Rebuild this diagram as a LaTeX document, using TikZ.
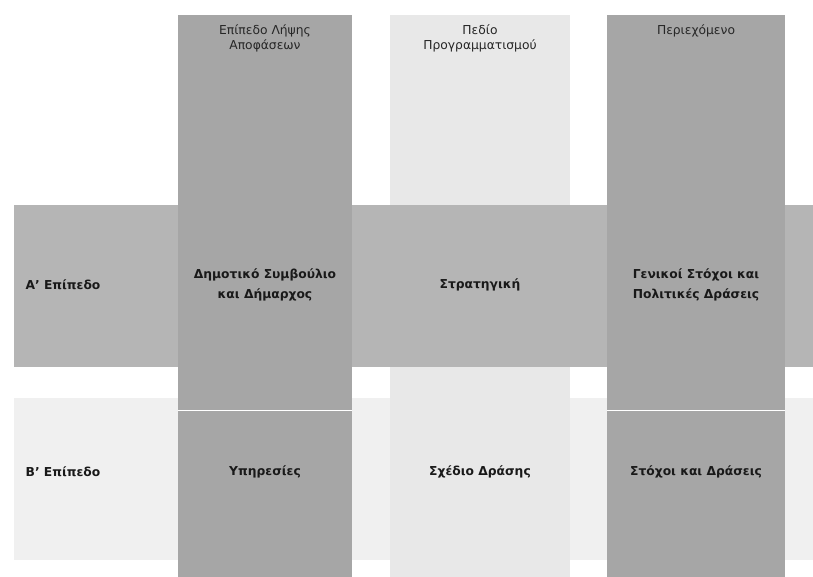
\documentclass[tikz,border=0pt]{standalone}
\usepackage{fontspec}
\setmainfont{DejaVu Sans}
\begin{document}
\begin{tikzpicture}[x=1pt,y=-1pt,
  band/.style={draw=none,inner sep=0pt,outer sep=0pt},
  head/.style={font=\fontsize{12.3}{15}\selectfont,align=center,text=black!85},
  lab/.style={font=\fontsize{12.3}{20}\selectfont\bfseries,align=center,text=black!90}]
\useasboundingbox (0,0) rectangle (813,577);
\fill[white] (0,0) rectangle (813,577);
% row B
\path[band,fill=black!6] (14,398) rectangle (813,560);
\node[band] (rowB) at (413.5,479) {};
% column 2 (light)
\path[band,fill=black!9] (390,15) rectangle (570,577);
\node[band] (col2) at (480,296) {};
% row A
\path[band,fill=black!29] (14,205) rectangle (813,367);
\node[band] (rowA) at (413.5,286) {};
% columns 1 and 3
\path[band,fill=black!35] (178,15) rectangle (352,577);
\node[band] (col1) at (265,296) {};
\path[band,fill=black!35] (607,15) rectangle (785,577);
\node[band] (col3) at (696,296) {};
\draw[white,line width=1pt] (178,410) -- (352,410) (607,410) -- (785,410);
% headers
\node[head] (h1) at (265,38) {Επίπεδο Λήψης\\Αποφάσεων};
\node[head] (h2) at (480,38) {Πεδίο\\Προγραμματισμού};
\node[head] (h3) at (696,31) {Περιεχόμενο};
% row A labels
\node[lab] (a0) at (63,285) {Α' Επίπεδο};
\node[lab] (a1) at (265,285) {Δημοτικό Συμβούλιο\\και Δήμαρχος};
\node[lab] (a2) at (480,285) {Στρατηγική};
\node[lab] (a3) at (696,285) {Γενικοί Στόχοι και\\Πολιτικές Δράσεις};
% row B labels
\node[lab] (b0) at (63,472) {Β' Επίπεδο};
\node[lab] (b1) at (265,472) {Υπηρεσίες};
\node[lab] (b2) at (480,472) {Σχέδιο Δράσης};
\node[lab] (b3) at (696,472) {Στόχοι και Δράσεις};
\end{tikzpicture}
\end{document}
